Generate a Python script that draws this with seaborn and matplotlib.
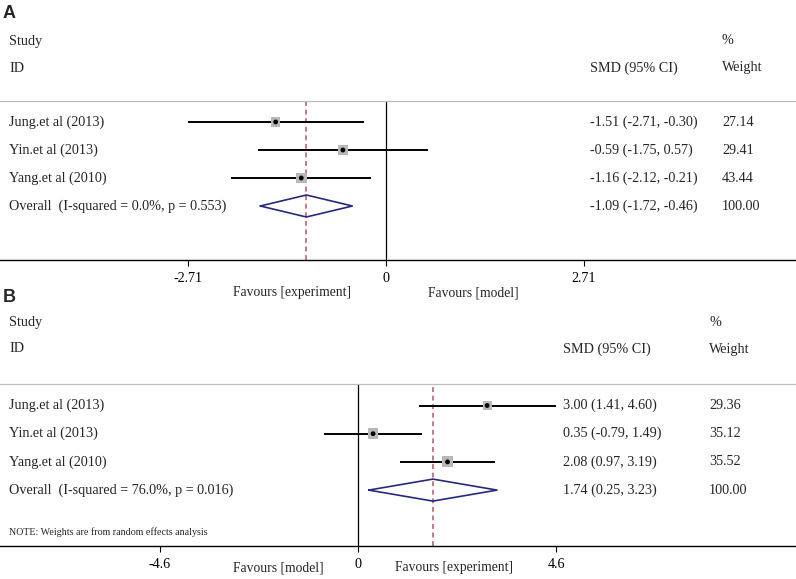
import numpy as np
import pandas as pd
import matplotlib
matplotlib.use("Agg")
import matplotlib.pyplot as plt
import seaborn as sns

# ---------------- data ----------------
studies = ["Jung.et al (2013)", "Yin.et al (2013)", "Yang.et al (2010)"]

a_est = [-1.51, -0.59, -1.16]
a_lo = [-2.71, -1.75, -2.12]
a_hi = [-0.30, 0.57, -0.21]
a_w = [27.14, 29.41, 43.44]
a_overall = [-1.09, -1.72, -0.46]
a_overall_label = "Overall  (I-squared = 0.0%, p = 0.553)"
a_ticks = [-2.71, 0, 2.71]
a_ticklabels = ["-2.71", "0", "2.71"]
a_fav = ["Favours [experiment]", "Favours [model]"]

b_est = [3.00, 0.35, 2.08]
b_lo = [1.41, -0.79, 0.97]
b_hi = [4.60, 1.49, 3.19]
b_w = [29.36, 35.12, 35.52]
b_overall = [1.74, 0.25, 3.23]
b_overall_label = "Overall  (I-squared = 76.0%, p = 0.016)"
b_ticks = [-4.6, 0, 4.6]
b_ticklabels = ["-4.6", "0", "4.6"]
b_fav = ["Favours [model]", "Favours [experiment]"]
note = "NOTE: Weights are from random effects analysis"

# ---------------- style ----------------
sns.set_style("white")
plt.rcParams["font.family"] = ["Liberation Serif", "DejaVu Serif"]
FS = 10.2
W, H = 796, 579
fig = plt.figure(figsize=(W / 100, H / 100), dpi=100)

DIAMOND = "#262a7c"
DASH = "#b2566a"
SQUARE = "#b8b8b8"


def fx(x):
    return x / W


def fy(y):
    return 1 - y / H


def ftext(x, y, s, **kw):
    kw.setdefault("fontsize", FS)
    kw.setdefault("va", "center")
    fig.text(fx(x), fy(y), s, **kw)


def fmt(e, l, h):
    return f"{e:.2f} ({l:.2f}, {h:.2f})"


def panel(letter, top, bottom, row0, rowstep, zero_px, scale,
          est, lo, hi, w, overall, ov_label, ticks, ticklabels, fav,
          smd_x, w_x, study_y, id_y, letter_y, fav_y, fav_off, note_y=None):
    ax = fig.add_axes([0, fy(bottom), 1, (bottom - top) / H])
    ax.set_xlim(-zero_px / scale, (W - zero_px) / scale)
    ax.set_ylim((bottom - row0) / rowstep, (top - row0) / rowstep)
    ax.set_facecolor("none")

    rows = np.arange(len(est))
    df = pd.DataFrame({"row": rows, "est": est, "lo": lo, "hi": hi, "w": w})

    # zero line and overall dashed line
    ax.axvline(0, color="black", lw=0.9, zorder=1)
    ax.axvline(overall[0], color=DASH, lw=1.1, ls=(0, (3.2, 2.4)), zorder=1)

    # CIs
    ax.hlines(df["row"], df["lo"], df["hi"], color="black", lw=1.4, zorder=2)
    # weighted squares + point
    sns.scatterplot(data=df, x="est", y="row", size="w", sizes=(42, 62),
                    marker="s", color=SQUARE, edgecolor="none", legend=False,
                    ax=ax, zorder=3)
    sns.scatterplot(data=df, x="est", y="row", marker="o", color="black",
                    s=12, edgecolor="none", legend=False, ax=ax, zorder=4)

    # overall diamond
    r = len(est)
    hd = 11 / rowstep
    ax.plot([overall[1], overall[0], overall[2], overall[0], overall[1]],
            [r, r - hd, r, r + hd, r], color=DIAMOND, lw=1.2, zorder=3)

    # axes styling
    for s in ["left", "right"]:
        ax.spines[s].set_visible(False)
    ax.spines["bottom"].set_color("black")
    ax.spines["bottom"].set_linewidth(1.0)
    ax.spines["top"].set_color("#bdbdbd")
    ax.spines["top"].set_linewidth(0.9)
    ax.set_yticks([])
    ax.set_xticks(ticks)
    ax.set_xticklabels(ticklabels, fontsize=FS)
    ax.tick_params(axis="x", direction="out", length=4, width=0.8, pad=4.5,
                   bottom=True, colors="black")
    ax.set_xlabel("")
    ax.set_ylabel("")

    # favours labels
    ftext(zero_px - fav_off[0], fav_y, fav[0], ha="right", fontsize=9.8)
    ftext(zero_px + fav_off[1], fav_y, fav[1], ha="left", fontsize=9.8)

    # texts
    fig.text(fx(3), fy(letter_y), letter, fontsize=13, fontweight="bold",
             family="Liberation Sans", va="center", ha="left")
    ftext(9, study_y, "Study")
    ftext(9, id_y, "ID")
    ftext(smd_x, id_y, "SMD (95% CI)")
    ftext(w_x, study_y, "%")
    ftext(w_x, id_y, "Weight")
    for i in range(len(est)):
        y = row0 + i * rowstep
        ftext(9, y, studies[i])
        ftext(smd_x, y, fmt(est[i], lo[i], hi[i]))
        ftext(w_x, y, f"{w[i]:.2f}")
    y = row0 + len(est) * rowstep
    ftext(9, y, ov_label)
    ftext(smd_x, y, fmt(*overall))
    ftext(w_x, y, "100.00")
    if note_y is not None:
        ftext(9, note_y, note, fontsize=7.2)
    return ax


panel("A", 101, 260, 122, 28, 386, 198 / 2.71,
      a_est, a_lo, a_hi, a_w, a_overall, a_overall_label, a_ticks,
      a_ticklabels, a_fav, 590, 722, 41, 68, 13, 293, (35, 42))

panel("B", 384, 546, 405.5, 28.2, 358, 198 / 4.6,
      b_est, b_lo, b_hi, b_w, b_overall, b_overall_label, b_ticks,
      b_ticklabels, b_fav, 563, 709, 322, 349, 298, 568, (34, 37),
      note_y=532)

fig.savefig("out.png", dpi=100)
